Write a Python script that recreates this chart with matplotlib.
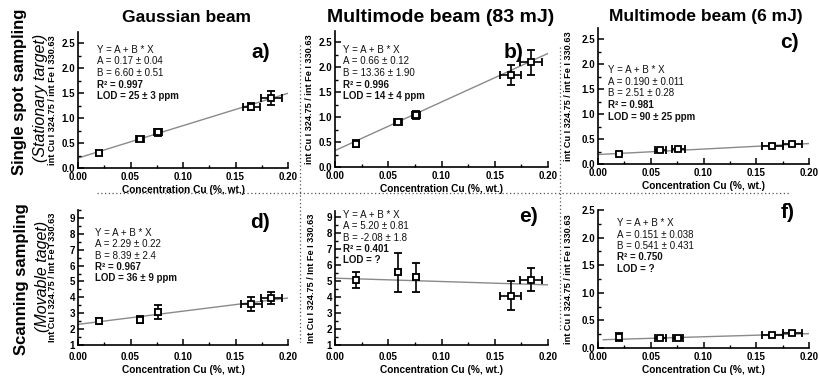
import matplotlib
matplotlib.use('Agg')
import matplotlib.pyplot as plt
from matplotlib.ticker import MultipleLocator, FormatStrFormatter
from matplotlib.lines import Line2D

W, H, DPI = 819, 378, 100
plt.rcParams['font.family'] = ['Liberation Sans', 'DejaVu Sans']

# ---------------- data ----------------
conc = [0.020, 0.059, 0.076, 0.165, 0.184]

a_y = [0.30, 0.58, 0.72, 1.23, 1.40]
a_yerr = [0.03, 0.04, 0.07, 0.07, 0.14]
a_xerr = [0.003, 0.004, 0.004, 0.008, 0.010]
a_line = [0.20, 1.50]

b_y = [0.47, 0.91, 1.04, 1.84, 2.10]
b_yerr = [0.07, 0.05, 0.08, 0.20, 0.25]
b_xerr = [0.003, 0.004, 0.004, 0.010, 0.010]
b_line = [0.33, 2.28]

c_y = [0.21, 0.28, 0.30, 0.37, 0.40]
c_yerr = [0.03, 0.03, 0.03, 0.03, 0.03]
c_xerr = [0.002, 0.005, 0.006, 0.010, 0.009]
c_line = [0.19, 0.41]

d_y = [2.50, 2.60, 3.10, 3.60, 3.96]
d_yerr = [0.20, 0.20, 0.45, 0.45, 0.35]
d_xerr = [0.002, 0.003, 0.003, 0.010, 0.010]
d_line = [2.30, 3.96]

e_y = [5.10, 5.55, 5.25, 4.10, 5.10]
e_yerr = [0.50, 1.20, 0.90, 0.90, 0.70]
e_xerr = [0.002, 0.003, 0.003, 0.010, 0.010]
e_line = [5.19, 4.77]

f_y = [0.20, 0.18, 0.19, 0.23, 0.27]
f_yerr = [0.07, 0.02, 0.02, 0.02, 0.03]
f_xerr = [0.002, 0.005, 0.005, 0.010, 0.009]
f_line = [0.15, 0.26]

line_x = [0.0, 0.20]
f_line_x = [0.005, 0.20]

col_titles = ['Gaussian beam', 'Multimode beam (83 mJ)', 'Multimode beam (6 mJ)']
row_titles = ['Single spot sampling', 'Scanning sampling']
row_subtitles = ['(Stationary target)', '(Movable taget)']
xlabel = 'Concentration Cu (%, wt.)'
ylabel_lower = 'int Cu I 324.75 / int Fe I 330.63'
ylabel_upper = 'Int Cu I 324.75 / Int Fe I 330.63'
panel_letters = ['a', 'b', 'c', 'd', 'e', 'f']

a_text = ['Y = A + B * X', 'A = 0.17 \u00b1 0.04', 'B = 6.60 \u00b1 0.51', 'R\u00b2 = 0.997', 'LOD = 25 \u00b1 3 ppm']
b_text = ['Y = A + B * X', 'A = 0.66 \u00b1 0.12', 'B = 13.36 \u00b1 1.90', 'R\u00b2 = 0.996', 'LOD = 14 \u00b1 4 ppm']
c_text = ['Y = A + B * X', 'A = 0.190 \u00b1 0.011', 'B = 2.51 \u00b1 0.28', 'R\u00b2 = 0.981', 'LOD = 90 \u00b1 25 ppm']
d_text = ['Y = A + B * X', 'A = 2.29 \u00b1 0.22', 'B = 8.39 \u00b1 2.4', 'R\u00b2 = 0.967', 'LOD = 36 \u00b1 9 ppm']
e_text = ['Y = A + B * X', 'A = 5.20 \u00b1 0.81', 'B = -2.08 \u00b1 1.8', 'R\u00b2 = 0.401', 'LOD = ?']
f_text = ['Y = A + B * X', 'A = 0.151 \u00b1 0.038', 'B = 0.541 \u00b1 0.431', 'R\u00b2 = 0.750', 'LOD = ?']

# ---------------- layout (pixels) ----------------
fig = plt.figure(figsize=(W / DPI, H / DPI), dpi=DPI)
fig.patch.set_facecolor('white')


def rect(x0, x1, ytop, ybot):
    return [x0 / W, 1 - ybot / H, (x1 - x0) / W, (ybot - ytop) / H]


panels = [
    dict(y=a_y, yerr=a_yerr, xerr=a_xerr, line=a_line, lx=line_x, text=a_text,
         box=(78, 288, 32, 168), ylim=(0, 2.73), maj=0.5, fmt='%.1f', ylab=ylabel_lower,
         ylx=-0.10, txt=(97, 50), let=(261, 53), ys=11.5, xpad=3),
    dict(y=b_y, yerr=b_yerr, xerr=b_xerr, line=b_line, lx=line_x, text=b_text,
         box=(335, 548, 31, 167), ylim=(0, 2.73), maj=0.5, fmt='%.1f', ylab=ylabel_lower,
         ylx=-0.10, txt=(343, 50), let=(514, 53), ys=11.5, xpad=3),
    dict(y=c_y, yerr=c_yerr, xerr=c_xerr, line=c_line, lx=line_x, text=c_text,
         box=(598, 809, 28, 164), ylim=(0, 2.73), maj=0.5, fmt='%.1f', ylab=ylabel_lower,
         ylx=-0.12, txt=(608, 70), let=(789, 42), ys=11.7, xpad=3),
    dict(y=d_y, yerr=d_yerr, xerr=d_xerr, line=d_line, lx=line_x, text=d_text,
         box=(78, 288, 210, 345), ylim=(1, 9.5), maj=1, fmt='%d', ylab=ylabel_upper,
         ylx=-0.10, txt=(95, 233), let=(260, 222), ys=11.3, xpad=5),
    dict(y=e_y, yerr=e_yerr, xerr=e_xerr, line=e_line, lx=line_x, text=e_text,
         box=(335, 548, 211, 345), ylim=(1, 9.4), maj=1, fmt='%d', ylab=ylabel_upper,
         ylx=-0.09, txt=(343, 215), let=(529, 217), ys=11.3, xpad=5),
    dict(y=f_y, yerr=f_yerr, xerr=f_xerr, line=f_line, lx=f_line_x, text=f_text,
         box=(598, 809, 210, 348), ylim=(0, 2.5), maj=0.5, fmt='%.1f', ylab=ylabel_lower,
         ylx=-0.12, txt=(617, 223), let=(788, 213), ys=11.5, xpad=3),
]

for i, p in enumerate(panels):
    ax = fig.add_axes(rect(*p['box']))
    ax.plot(p['lx'], p['line'], color='#8a8a8a', lw=1.0, zorder=1)
    ax.errorbar(conc, p['y'], yerr=p['yerr'], xerr=p['xerr'], fmt='s',
                ms=5, mfc='white', mec='black', mew=1.3, ecolor='black',
                elinewidth=1.2, capsize=2.6, capthick=1.2, zorder=3)
    ax.set_xlim(0, 0.20)
    ax.set_ylim(*p['ylim'])
    for s in ['top', 'right']:
        ax.spines[s].set_visible(False)
    for s in ['left', 'bottom']:
        ax.spines[s].set_linewidth(1.2)
    ax.xaxis.set_major_locator(MultipleLocator(0.05))
    ax.xaxis.set_minor_locator(MultipleLocator(0.025))
    ax.yaxis.set_major_locator(MultipleLocator(p['maj']))
    ax.yaxis.set_minor_locator(MultipleLocator(p['maj'] / 2))
    ax.xaxis.set_major_formatter(FormatStrFormatter('%.2f'))
    ax.yaxis.set_major_formatter(FormatStrFormatter(p['fmt']))
    ax.tick_params(which='major', direction='in', length=4, width=1.1)
    ax.tick_params(axis='x', which='major', pad=p['xpad'])
    ax.tick_params(axis='y', which='major', pad=2)
    ax.tick_params(which='minor', direction='in', length=2.2, width=1.0)
    for lab in ax.get_xticklabels() + ax.get_yticklabels():
        lab.set_fontweight('bold')
        lab.set_fontsize(7)
    ax.set_xlabel(xlabel, fontsize=7.3, fontweight='bold', labelpad=2)
    ax.set_ylabel(p['ylab'], fontsize=6.6, fontweight='bold')
    ax.yaxis.set_label_coords(p['ylx'], 0.5)
    ax.patch.set_alpha(0)

    tx, ty = p['txt']
    for k, line in enumerate(p['text']):
        fig.text(tx / W, 1 - (ty + k * p['ys']) / H, line, fontsize=7,
                 fontweight='bold' if k >= 3 else 'normal', ha='left', va='center',
                 color='#111111')
    lx, ly = p['let']
    fig.text(lx / W, 1 - ly / H, panel_letters[i] + ')', fontsize=15,
             fontweight='bold', ha='center', va='center')

# column titles
for cx, t, fs in zip([187, 441, 706], col_titles, [12.5, 14, 12.5]):
    fig.text(cx / W, 1 - 17 / H, t, fontsize=fs, fontweight='bold', ha='center', va='center')

# row titles
for (x1, y1, x2, y2), t, s in zip([(20, 92, 40, 98), (22, 279, 42, 276)], row_titles, row_subtitles):
    fig.text(x1 / W, 1 - y1 / H, t, fontsize=12, fontweight='bold', rotation=90,
             ha='center', va='center')
    fig.text(x2 / W, 1 - y2 / H, s, fontsize=11.5, fontstyle='italic', rotation=90,
             ha='center', va='center')

# dotted separators
dot = dict(color='#555555', lw=0.9, linestyle=(0, (1, 2)), transform=fig.transFigure)
fig.add_artist(Line2D([97 / W, 790 / W], [1 - 193 / H, 1 - 193 / H], **dot))
fig.add_artist(Line2D([300 / W, 300 / W], [1 - 45 / H, 1 - 342 / H], **dot))
fig.add_artist(Line2D([560 / W, 560 / W], [1 - 47 / H, 1 - 330 / H], **dot))

fig.savefig('out.png', dpi=DPI, facecolor='white')
